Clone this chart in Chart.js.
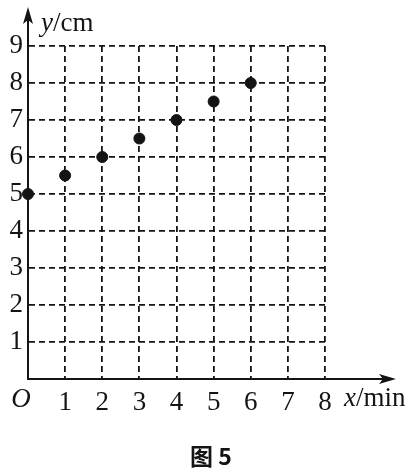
<!DOCTYPE html>
<html>
<head>
<meta charset="utf-8">
<script src="https://cdn.jsdelivr.net/npm/chart.js@4"></script>
<style>
  html, body { margin: 0; padding: 0; background: #fff; }
  #wrap { width: 414px; height: 474px; }
</style>
</head>
<body>
<div id="wrap"><canvas id="chart" width="414" height="474"></canvas></div>
<script>
// Data
const timeMin = [0, 1, 2, 3, 4, 5, 6];
const lengthCm = [5, 5.5, 6, 6.5, 7, 7.5, 8];
const xTicks = [0, 1, 2, 3, 4, 5, 6, 7, 8];
const yTicks = [0, 1, 2, 3, 4, 5, 6, 7, 8, 9];
const xTitle = ['x', '/min'];
const yTitle = ['y', '/cm'];
const caption = '图 5';

const serif = '"Liberation Serif", "DejaVu Serif", serif';
const ink = '#141414';

// Arrows, axis names, the origin "O" and the caption
const decorations = {
  id: 'decorations',
  afterDraw(chart) {
    const ctx = chart.ctx;
    const xs = chart.scales.x;
    const ys = chart.scales.y;
    const x0 = xs.getPixelForValue(0);
    const y0 = ys.getPixelForValue(0);
    const top = ys.getPixelForValue(9);
    const right = xs.getPixelForValue(8);

    ctx.save();
    ctx.strokeStyle = ink;
    ctx.fillStyle = ink;
    ctx.lineWidth = 2;

    // axis extensions
    ctx.beginPath();
    ctx.moveTo(x0, top);
    ctx.lineTo(x0, 16);
    ctx.moveTo(right, y0);
    ctx.lineTo(388, y0);
    ctx.stroke();

    // arrow heads
    ctx.beginPath();
    ctx.moveTo(x0, 7);
    ctx.lineTo(x0 - 5, 24);
    ctx.lineTo(x0, 20);
    ctx.lineTo(x0 + 5, 24);
    ctx.closePath();
    ctx.fill();
    ctx.beginPath();
    ctx.moveTo(396, y0);
    ctx.lineTo(379, y0 - 5);
    ctx.lineTo(383, y0);
    ctx.lineTo(379, y0 + 5);
    ctx.closePath();
    ctx.fill();

    // axis names: italic letter + upright unit
    ctx.textBaseline = 'alphabetic';
    ctx.textAlign = 'left';
    function axisName(parts, x, y) {
      ctx.font = 'italic 27px ' + serif;
      ctx.fillText(parts[0], x, y);
      const w = ctx.measureText(parts[0]).width;
      ctx.font = '27px ' + serif;
      ctx.fillText(parts[1], x + w, y);
    }
    axisName(yTitle, 41, 31);
    axisName(xTitle, 344, 406);

    // origin
    ctx.font = 'italic 27px ' + serif;
    ctx.textAlign = 'center';
    ctx.fillText('O', 21, 407);

    // caption
    ctx.font = 'bold 23px "Noto Sans CJK SC", sans-serif';
    ctx.textBaseline = 'middle';
    ctx.fillText(caption, 211, 456);
    ctx.restore();
  }
};

const gridStyle = {
  color: ink,
  lineWidth: 1.8,
  drawTicks: false
};
const borderStyle = {
  display: true,
  color: ink,
  width: 2,
  dash: [6, 4]
};

new Chart(document.getElementById('chart'), {
  type: 'scatter',
  data: {
    datasets: [{
      data: timeMin.map((t, i) => ({ x: t, y: lengthCm[i] })),
      pointRadius: 5.5,
      pointHoverRadius: 5.5,
      pointBackgroundColor: ink,
      pointBorderColor: ink,
      showLine: false,
      clip: false
    }]
  },
  options: {
    responsive: false,
    animation: false,
    events: [],
    layout: { padding: { top: 46, right: 89, left: 0, bottom: 0 } },
    plugins: {
      legend: { display: false },
      tooltip: { enabled: false }
    },
    scales: {
      x: {
        type: 'linear',
        min: xTicks[0],
        max: xTicks[xTicks.length - 1],
        afterBuildTicks: (s) => { s.ticks = xTicks.map((v) => ({ value: v })); },
        afterFit: (s) => { s.height = 95; },
        grid: gridStyle,
        border: borderStyle,
        ticks: {
          padding: 8,
          color: ink,
          font: { family: serif, size: 27 },
          maxRotation: 0,
          autoSkip: false,
          callback: (v) => (v === 0 ? '' : v)
        }
      },
      y: {
        type: 'linear',
        min: yTicks[0],
        max: yTicks[yTicks.length - 1],
        afterBuildTicks: (s) => { s.ticks = yTicks.map((v) => ({ value: v })); },
        afterFit: (s) => { s.width = 28; },
        grid: gridStyle,
        border: borderStyle,
        ticks: {
          padding: 5,
          color: ink,
          font: { family: serif, size: 27 },
          autoSkip: false,
          callback: (v) => (v === 0 ? '' : v)
        }
      }
    }
  },
  plugins: [decorations]
});
</script>
</body>
</html>
